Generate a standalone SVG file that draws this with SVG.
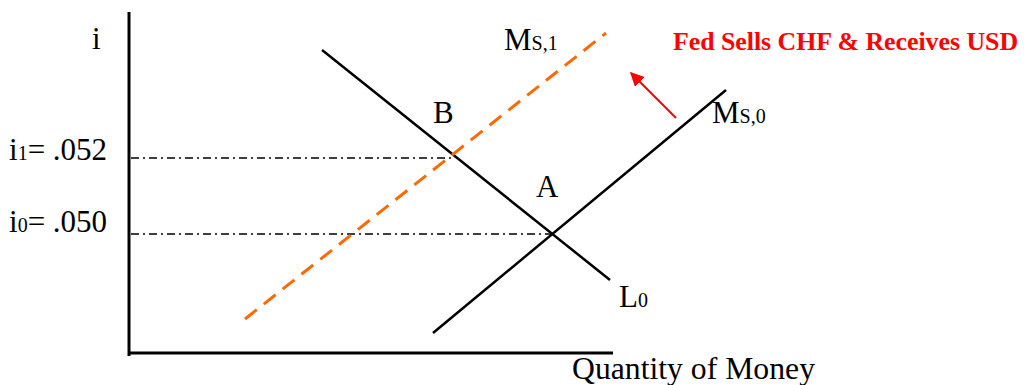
<svg xmlns="http://www.w3.org/2000/svg" width="1024" height="385" viewBox="0 0 1024 385">
<defs>
<style>
.t{font-family:"Liberation Serif","Times New Roman",serif;font-size:31px;fill:#000}
.s{font-size:20px}
.axis{stroke:#000;stroke-width:3;fill:none}
.curve{stroke:#000;stroke-width:2.5;fill:none}
.ms1{stroke:#FF6A00;stroke-width:3;fill:none;stroke-dasharray:15 9}
.guide{stroke:#000;stroke-width:1.5;fill:none;stroke-dasharray:8 4 2 4}
.red{font-family:"Liberation Serif","Times New Roman",serif;font-size:25.5px;font-weight:bold;fill:#FF0000}
</style>
<marker id="ah" viewBox="0 0 10 10" refX="9" refY="5" markerWidth="7" markerHeight="7" orient="auto" markerUnits="strokeWidth">
<path d="M0,0 L10,5 L0,10 z" fill="#FF0000"/>
</marker>
</defs>
<rect width="1024" height="385" fill="#fff"/>
<g id="axes">
<line class="axis" x1="129" y1="12" x2="129" y2="356"/>
<line class="axis" x1="129" y1="353" x2="613" y2="353"/>
<text class="t" x="92" y="49">i</text>
<text class="t" x="572" y="379" textLength="243" lengthAdjust="spacingAndGlyphs">Quantity of Money</text>
</g>
<g id="connectors">
<line class="guide" x1="131" y1="158" x2="453" y2="158"/>
<line class="guide" x1="131" y1="234" x2="553" y2="234"/>
<line id="L0-line" class="curve" x1="322" y1="50" x2="610" y2="280"/>
<line id="MS0-line" class="curve" x1="433" y1="333" x2="726" y2="90"/>
<line id="MS1-line" class="ms1" x1="245" y1="319" x2="606" y2="33"/>
<line id="shift-arrow" x1="676" y1="118" x2="631" y2="73" stroke="#FF0000" stroke-width="2" marker-end="url(#ah)"/>
</g>
<g id="i1-label"><text class="t" x="9" y="160">i<tspan class="s">1</tspan>= .052</text></g>
<g id="i0-label"><text class="t" x="9" y="232">i<tspan class="s">0</tspan>= .050</text></g>
<g id="point-B"><text class="t" x="433" y="123">B</text></g>
<g id="point-A"><text class="t" x="536" y="197">A</text></g>
<g id="MS1"><text class="t" x="504" y="50">M<tspan class="s">S,1</tspan></text></g>
<g id="MS0"><text class="t" x="712" y="123">M<tspan class="s">S,0</tspan></text></g>
<g id="L0"><text class="t" x="619" y="307">L<tspan class="s">0</tspan></text></g>
<g id="fed-note"><text class="red" x="673" y="50" textLength="345" lengthAdjust="spacingAndGlyphs">Fed Sells CHF &amp; Receives USD</text></g>
</svg>
